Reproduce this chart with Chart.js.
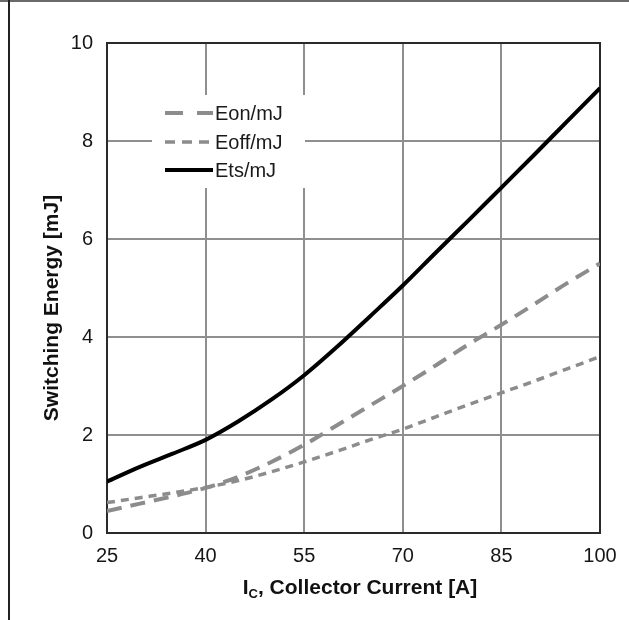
<!DOCTYPE html>
<html><head><meta charset="utf-8">
<script src="https://cdn.jsdelivr.net/npm/chart.js@4/dist/chart.umd.min.js"></script>
<style>
html,body{margin:0;padding:0;background:#fff;}
#wrap{position:relative;width:629px;height:620px;overflow:hidden;background:#fff;}
#c{position:absolute;left:0;top:0;}
#fl{position:absolute;left:8px;top:0;width:2px;height:620px;background:#222;}
#ft{position:absolute;left:0;top:0;width:629px;height:2px;background:#6a6a6a;}
</style></head><body>
<div id="wrap"><canvas id="c" width="629" height="620"></canvas><div id="ft"></div><div id="fl"></div></div>
<script>
// ---- data ----
const currents = [25, 30, 35, 40, 45, 50, 55, 60, 65, 70, 75, 80, 85, 90, 95, 100];
const eon  = [0.45, 0.60, 0.75, 0.92, 1.15, 1.45, 1.80, 2.20, 2.60, 3.00, 3.42, 3.85, 4.25, 4.67, 5.10, 5.50];
const eoff = [0.62, 0.72, 0.82, 0.93, 1.07, 1.25, 1.45, 1.67, 1.90, 2.12, 2.37, 2.62, 2.86, 3.10, 3.35, 3.60];
const ets  = [1.05, 1.35, 1.62, 1.90, 2.28, 2.72, 3.22, 3.80, 4.42, 5.05, 5.72, 6.38, 7.05, 7.72, 8.40, 9.08];
const xTicks = [25, 40, 55, 70, 85, 100];
const yTicks = [0, 2, 4, 6, 8, 10];
const seriesNames = ['Eon/mJ', 'Eoff/mJ', 'Ets/mJ'];
const yTitle = 'Switching Energy [mJ]';
const xTitleMain = 'I', xTitleSub = 'C', xTitleRest = ', Collector Current [A]';

const FONT = '"Liberation Sans", Arial, sans-serif';
const toXY = arr => arr.map((v, i) => ({x: currents[i], y: v}));

const frameAndTitles = {
  id: 'frameAndTitles',
  beforeDatasetsDraw(chart) {
    const {ctx, chartArea: a} = chart;
    ctx.save();
    ctx.strokeStyle = '#2a2a2a';
    ctx.lineWidth = 2;
    ctx.strokeRect(a.left, a.top, a.right - a.left, a.bottom - a.top);
    ctx.restore();
  },
  afterDraw(chart) {
    const {ctx} = chart;
    ctx.save();
    ctx.fillStyle = '#111';
    ctx.font = 'bold 21px ' + FONT;
    ctx.translate(52, 308);
    ctx.rotate(-Math.PI / 2);
    ctx.textAlign = 'center';
    ctx.textBaseline = 'middle';
    ctx.fillText(yTitle, 0, 0);
    ctx.restore();
    ctx.save();
    ctx.fillStyle = '#111';
    ctx.textBaseline = 'alphabetic';
    ctx.textAlign = 'left';
    const big = 'bold 21px ' + FONT, small = 'bold 13px ' + FONT;
    ctx.font = big; const w1 = ctx.measureText(xTitleMain).width;
    const w3 = ctx.measureText(xTitleRest).width;
    ctx.font = small; const w2 = ctx.measureText(xTitleSub).width;
    let x = 360 - (w1 + w2 + w3) / 2;
    const base = 594;
    ctx.font = big; ctx.fillText(xTitleMain, x, base); x += w1;
    ctx.font = small; ctx.fillText(xTitleSub, x, base + 4); x += w2;
    ctx.font = big; ctx.fillText(xTitleRest, x, base);
    ctx.restore();
  }
};

const boxLegend = {
  id: 'boxLegend',
  afterDatasetsDraw(chart) {
    const {ctx} = chart;
    ctx.save();
    ctx.fillStyle = '#fff';
    ctx.fillRect(152, 95, 153, 93);
    const rows = [113, 142, 170];
    const legendDash = [[18, 14], [10, 7], []];
    chart.data.datasets.forEach((ds, i) => {
      const y = rows[i];
      ctx.strokeStyle = ds.borderColor;
      ctx.lineWidth = ds.borderWidth;
      ctx.setLineDash(legendDash[i]);
      ctx.lineCap = 'butt';
      ctx.beginPath();
      ctx.moveTo(165, y);
      ctx.lineTo(213, y);
      ctx.stroke();
      ctx.setLineDash([]);
      ctx.fillStyle = '#1a1a1a';
      ctx.font = '20px ' + FONT;
      ctx.textBaseline = 'middle';
      ctx.textAlign = 'left';
      ctx.fillText(ds.label, 215, y + 1);
    });
    ctx.restore();
  }
};

new Chart(document.getElementById('c'), {
  type: 'line',
  data: {
    datasets: [
      {label: seriesNames[0], data: toXY(eon), borderColor: '#8c8c8c', borderWidth: 4, borderDash: [15, 9], pointRadius: 0, cubicInterpolationMode: 'monotone', fill: false},
      {label: seriesNames[1], data: toXY(eoff), borderColor: '#8c8c8c', borderWidth: 3.5, borderDash: [8, 6], pointRadius: 0, cubicInterpolationMode: 'monotone', fill: false},
      {label: seriesNames[2], data: toXY(ets), borderColor: '#000', borderWidth: 4, pointRadius: 0, cubicInterpolationMode: 'monotone', fill: false}
    ]
  },
  options: {
    responsive: false,
    animation: false,
    devicePixelRatio: 1,
    layout: {padding: {left: 0, top: 43, right: 29, bottom: 0}},
    plugins: {legend: {display: false}, tooltip: {enabled: false}},
    scales: {
      x: {
        type: 'linear', min: 25, max: 100,
        afterBuildTicks: s => { s.ticks = xTicks.map(v => ({value: v})); },
        afterFit: s => { s.height = 87; },
        grid: {color: '#8f8f8f', lineWidth: 2, drawTicks: false},
        border: {display: false},
        ticks: {color: '#161616', font: {family: FONT, size: 20}, padding: 11, maxRotation: 0}
      },
      y: {
        min: 0, max: 10,
        afterBuildTicks: s => { s.ticks = yTicks.map(v => ({value: v})); },
        afterFit: s => { s.width = 107; },
        grid: {color: '#8f8f8f', lineWidth: 2, drawTicks: false},
        border: {display: false},
        ticks: {color: '#161616', font: {family: FONT, size: 20}, padding: 14}
      }
    }
  },
  plugins: [frameAndTitles, boxLegend]
});
</script>
</body></html>
